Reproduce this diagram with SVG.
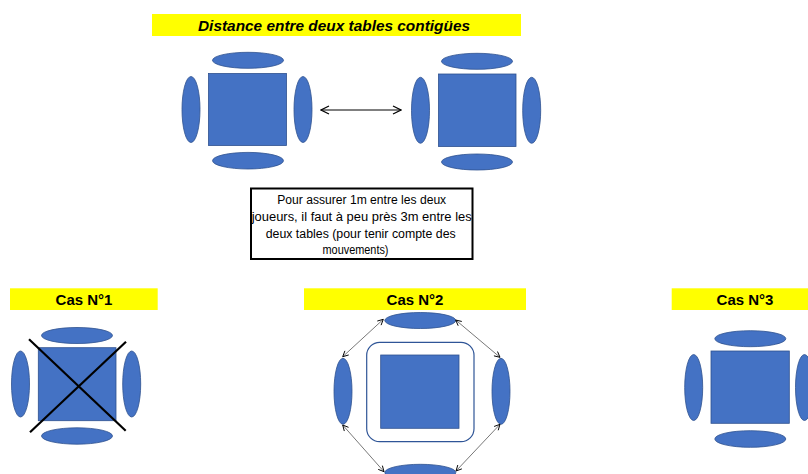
<svg xmlns="http://www.w3.org/2000/svg" width="808" height="474" viewBox="0 0 808 474">
<defs>
<marker id="ah" viewBox="0 0 10 10" refX="9" refY="5" markerWidth="10" markerHeight="10" markerUnits="userSpaceOnUse" orient="auto-start-reverse">
<path d="M1,1 L9,5 L1,9" fill="none" stroke="#000" stroke-width="1.2"/>
</marker>
<marker id="ahs" viewBox="0 0 10 10" refX="9" refY="5" markerWidth="7" markerHeight="7" markerUnits="userSpaceOnUse" orient="auto-start-reverse">
<path d="M1,1 L9,5 L1,9" fill="none" stroke="#000" stroke-width="1.3"/>
</marker>
</defs>
<style>
.s{fill:#4472C4;stroke:#2F528F;stroke-width:0.8}
.ban{fill:#FFFF00}
.bt{font-family:"Liberation Sans",Arial,sans-serif;font-weight:bold;font-size:15px;fill:#000;text-anchor:middle}
.tt{font-family:"Liberation Sans",Arial,sans-serif;font-weight:bold;font-style:italic;font-size:15px;fill:#000;text-anchor:middle}
.nt{font-family:"Liberation Sans",Arial,sans-serif;font-size:12px;fill:#000;text-anchor:middle}
.c{fill:none;stroke:#000;stroke-width:1}
.cs{fill:none;stroke:#555;stroke-width:0.8}
</style>
<rect width="808" height="474" fill="#fff"/>

<g id="title">
<rect class="ban" x="152" y="14" width="369" height="22"/>
<text class="tt" x="334" y="30.5" textLength="272" lengthAdjust="spacingAndGlyphs">Distance entre deux tables contigües</text>
</g>

<g id="table-a">
<rect class="s" x="208.5" y="73.5" width="78" height="72"/>
<ellipse class="s" cx="248" cy="60.3" rx="35.5" ry="8"/>
<ellipse class="s" cx="248" cy="160.7" rx="35.5" ry="8.3"/>
<ellipse class="s" cx="191" cy="109.5" rx="9" ry="33"/>
<ellipse class="s" cx="303" cy="109.5" rx="9" ry="33"/>
</g>

<g id="table-b">
<rect class="s" x="438.5" y="74" width="77.5" height="72.5"/>
<ellipse class="s" cx="477" cy="61.3" rx="35.5" ry="8"/>
<ellipse class="s" cx="477" cy="162" rx="35.5" ry="8"/>
<ellipse class="s" cx="420.5" cy="110.3" rx="9" ry="33"/>
<ellipse class="s" cx="531.7" cy="110.3" rx="9" ry="33"/>
</g>

<g id="note">
<rect x="251" y="188.5" width="221.5" height="70.5" fill="#fff" stroke="#000" stroke-width="2"/>
<text class="nt" x="361.7" y="204" textLength="169" lengthAdjust="spacingAndGlyphs">Pour assurer 1m entre les deux</text>
<text class="nt" x="361.7" y="221" textLength="220" lengthAdjust="spacingAndGlyphs">joueurs, il faut à peu près 3m entre les</text>
<text class="nt" x="360.7" y="238" textLength="190" lengthAdjust="spacingAndGlyphs">deux tables (pour tenir compte des</text>
<text class="nt" x="355.5" y="254" textLength="66" lengthAdjust="spacingAndGlyphs">mouvements)</text>
</g>

<g id="cas1">
<rect class="ban" x="10" y="288.3" width="147.7" height="21.7"/>
<text class="bt" x="84" y="305">Cas N°1</text>
<rect class="s" x="38.3" y="347.7" width="77.7" height="73"/>
<ellipse class="s" cx="77" cy="335.5" rx="35.5" ry="8"/>
<ellipse class="s" cx="77" cy="436" rx="35.5" ry="8.2"/>
<ellipse class="s" cx="20.5" cy="384" rx="9" ry="33"/>
<ellipse class="s" cx="131.7" cy="384" rx="9" ry="33"/>
<line x1="29" y1="339.3" x2="125.7" y2="430.7" stroke="#000" stroke-width="2.2"/>
<line x1="126" y1="341.7" x2="30" y2="432.3" stroke="#000" stroke-width="2.2"/>
</g>

<g id="cas2">
<rect class="ban" x="304" y="288.3" width="222" height="21.7"/>
<text class="bt" x="415" y="305">Cas N°2</text>
<rect x="366.7" y="342.3" width="107.3" height="99.4" rx="13" fill="none" stroke="#2F5597" stroke-width="1.2"/>
<rect class="s" x="380.7" y="355" width="78.3" height="73.3"/>
<ellipse class="s" cx="420.3" cy="320.5" rx="35.5" ry="8"/>
<ellipse class="s" cx="420.3" cy="472.5" rx="35.5" ry="8.2"/>
<ellipse class="s" cx="343" cy="391.3" rx="9" ry="33"/>
<ellipse class="s" cx="501" cy="391.3" rx="9" ry="33"/>
</g>

<g id="cas3">
<rect class="ban" x="671.7" y="288.3" width="147.7" height="21.7"/>
<text class="bt" x="745" y="305">Cas N°3</text>
<rect class="s" x="711" y="351" width="78.3" height="72.3"/>
<ellipse class="s" cx="750.3" cy="338.7" rx="35.5" ry="8"/>
<ellipse class="s" cx="750.3" cy="439" rx="35.5" ry="8.3"/>
<ellipse class="s" cx="693.7" cy="387.5" rx="9" ry="33"/>
<ellipse class="s" cx="804.5" cy="387.5" rx="9" ry="33"/>
</g>

<g id="connectors">
<line class="c" x1="321" y1="110" x2="401" y2="110" marker-start="url(#ah)" marker-end="url(#ah)"/>
<line class="cs" x1="383.3" y1="319.3" x2="342.7" y2="356.7" marker-start="url(#ahs)" marker-end="url(#ahs)"/>
<line class="cs" x1="455.7" y1="320" x2="500" y2="357.3" marker-start="url(#ahs)" marker-end="url(#ahs)"/>
<line class="cs" x1="342.7" y1="425" x2="384" y2="471.7" marker-start="url(#ahs)" marker-end="url(#ahs)"/>
<line class="cs" x1="500" y1="424.3" x2="456" y2="471" marker-start="url(#ahs)" marker-end="url(#ahs)"/>
</g>
</svg>
